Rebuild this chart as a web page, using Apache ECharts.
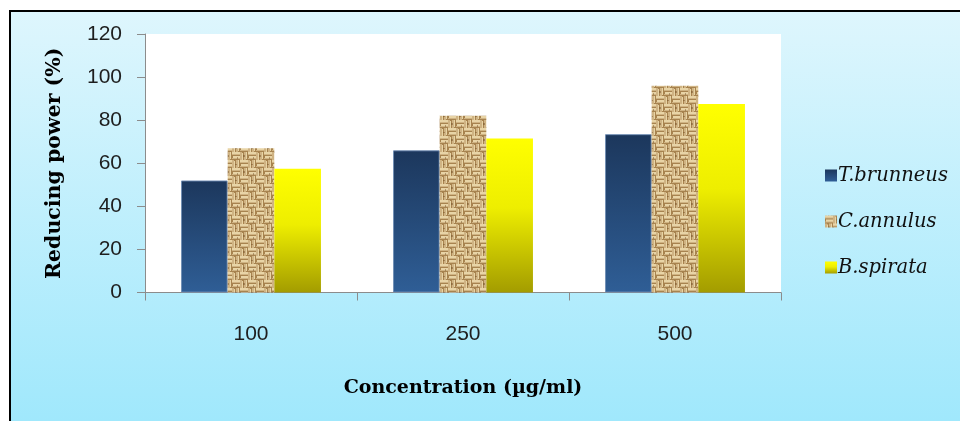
<!DOCTYPE html>
<html>
<head>
<meta charset="utf-8">
<script src="https://cdn.jsdelivr.net/npm/echarts@6/dist/echarts.min.js"></script>
<style>
  html, body { margin: 0; padding: 0; background: #ffffff; }
  #chart { width: 960px; height: 421px; }
</style>
</head>
<body>
<div id="chart"></div>
<script>
// Concentration groups on the x axis
const categories = ['100', '250', '500'];
// Reducing power (%) per species
const seriesNames = ['T.brunneus', 'C.annulus', 'B.spirata'];
const tBrunneus = [52, 66, 73.5];
const cAnnulus = [67, 82, 96];
const bSpirata = [57.5, 71.5, 87.5];
// Y axis range
const yTicks = [0, 20, 40, 60, 80, 100, 120];

// Woven burlap texture tile (basket weave with a few darker flecks)
function makeBurlap() {
  const c = document.createElement('canvas');
  c.width = 16; c.height = 16;
  const g = c.getContext('2d');
  g.fillStyle = '#a7834f';
  g.fillRect(0, 0, 16, 16);
  const light = '#e8d4a6';
  const mid = '#cfb383';
  function hCell(x0, y0) {
    g.fillStyle = light; g.fillRect(x0, y0, 8, 2);
    g.fillStyle = mid; g.fillRect(x0, y0 + 2, 8, 1);
    g.fillStyle = light; g.fillRect(x0 + 1, y0 + 4, 7, 2);
    g.fillStyle = mid; g.fillRect(x0, y0 + 6, 8, 1);
  }
  function vCell(x0, y0) {
    g.fillStyle = mid; g.fillRect(x0, y0, 2, 8);
    g.fillStyle = light; g.fillRect(x0 + 2, y0 + 1, 1, 7);
    g.fillStyle = mid; g.fillRect(x0 + 4, y0, 2, 8);
    g.fillStyle = light; g.fillRect(x0 + 6, y0, 1, 7);
  }
  hCell(0, 0); vCell(8, 0); vCell(0, 8); hCell(8, 8);
  g.fillStyle = 'rgba(110,75,35,0.45)';
  g.fillRect(3, 11, 2, 2);
  g.fillRect(11, 4, 2, 1);
  g.fillRect(13, 13, 1, 2);
  return c;
}

const blueFill = new echarts.graphic.LinearGradient(0, 0, 0, 1, [
  { offset: 0, color: '#1c375c' },
  { offset: 1, color: '#2f5e96' }
]);
const yellowFill = new echarts.graphic.LinearGradient(0, 0, 0, 1, [
  { offset: 0, color: '#ffff00' },
  { offset: 0.45, color: '#eeee00' },
  { offset: 1, color: '#a39c00' }
]);
const burlapFill = { image: makeBurlap(), repeat: 'repeat' };

const chart = echarts.init(document.getElementById('chart'), null, { renderer: 'canvas' });

const labelFont = { color: '#1e1e1e', fontFamily: 'Liberation Sans', fontSize: 21 };

chart.setOption({
  backgroundColor: '#ffffff',
  animation: false,
  graphic: [
    {
      type: 'rect', z: -10, silent: true,
      shape: { x: 10, y: 11, width: 950, height: 410 },
      style: {
        fill: new echarts.graphic.LinearGradient(0, 0, 0, 1, [
          { offset: 0, color: '#def6fd' },
          { offset: 1, color: '#a0e8fc' }
        ])
      }
    },
    {
      type: 'line', z: 10, silent: true,
      shape: { x1: 9, y1: 11, x2: 960, y2: 11 },
      style: { stroke: '#000000', lineWidth: 2 }
    },
    {
      type: 'line', z: 10, silent: true,
      shape: { x1: 10, y1: 10, x2: 10, y2: 421 },
      style: { stroke: '#000000', lineWidth: 2 }
    }
  ],
  grid: {
    left: 145, right: 179, top: 34, bottom: 128.5,
    show: true, backgroundColor: '#ffffff', borderWidth: 0
  },
  legend: {
    orient: 'vertical',
    left: 820,
    top: 160,
    itemWidth: 12,
    itemHeight: 12,
    itemGap: 25,
    icon: 'rect',
    data: seriesNames,
    itemStyle: { borderWidth: 0, borderColor: 'transparent' },
    textStyle: {
      fontFamily: 'DejaVu Serif', fontStyle: 'italic', fontSize: 19.5,
      color: '#111111', lineHeight: 21, padding: [0, 0, 0, -4]
    }
  },
  xAxis: {
    type: 'category',
    data: categories,
    name: 'Concentration (µg/ml)',
    nameLocation: 'middle',
    nameGap: 86,
    nameTextStyle: { fontFamily: 'DejaVu Serif', fontWeight: 'bold', fontSize: 19, color: '#000000' },
    axisLine: { lineStyle: { color: '#8c8c8c', width: 1 } },
    axisTick: { show: true, length: 8, lineStyle: { color: '#8c8c8c' } },
    axisLabel: Object.assign({ margin: 31 }, labelFont)
  },
  yAxis: {
    type: 'value',
    min: yTicks[0],
    max: yTicks[yTicks.length - 1],
    interval: yTicks[1] - yTicks[0],
    name: 'Reducing power (%)',
    nameLocation: 'middle',
    nameGap: 80,
    nameRotate: 90,
    nameTextStyle: { fontFamily: 'DejaVu Serif', fontWeight: 'bold', fontSize: 20.5, color: '#000000' },
    axisLine: { show: true, lineStyle: { color: '#8c8c8c', width: 1 } },
    axisTick: { show: true, length: 8, lineStyle: { color: '#8c8c8c' } },
    splitLine: { show: false },
    axisLabel: Object.assign({ margin: 23 }, labelFont)
  },
  series: [
    {
      name: seriesNames[0], type: 'bar', data: tBrunneus,
      barGap: '0%', barCategoryGap: '34%',
      itemStyle: { color: blueFill, borderColor: 'rgba(110,140,180,0.9)', borderWidth: 1 }
    },
    {
      name: seriesNames[1], type: 'bar', data: cAnnulus,
      barGap: '0%', barCategoryGap: '34%',
      itemStyle: { color: burlapFill }
    },
    {
      name: seriesNames[2], type: 'bar', data: bSpirata,
      barGap: '0%', barCategoryGap: '34%',
      itemStyle: { color: yellowFill }
    }
  ]
});
</script>
</body>
</html>
